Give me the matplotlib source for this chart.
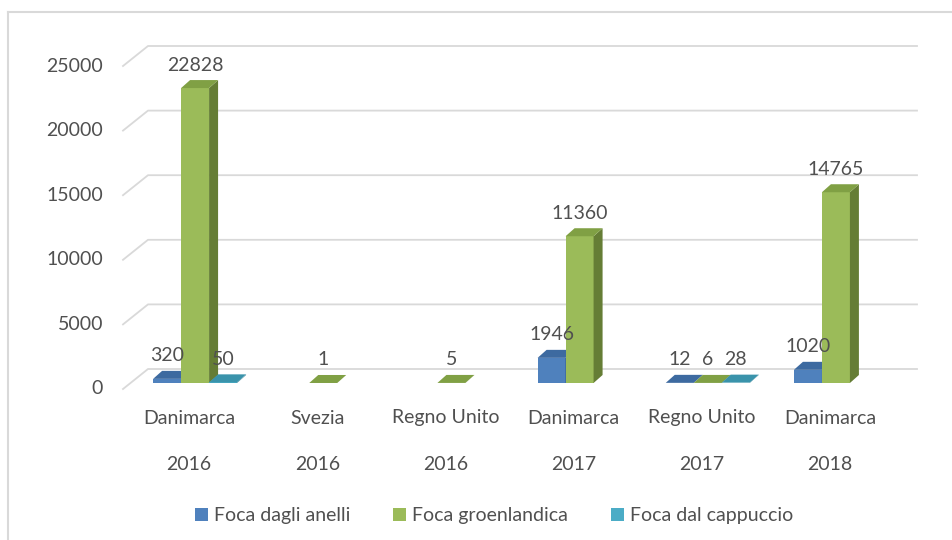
import numpy as np
import matplotlib
matplotlib.use("Agg")
import matplotlib.pyplot as plt
from matplotlib.patches import Polygon, Patch
from matplotlib.transforms import IdentityTransform
from matplotlib.lines import Line2D

countries = ["Danimarca", "Svezia", "Regno Unito", "Danimarca", "Regno Unito", "Danimarca"]
years = ["2016", "2016", "2016", "2017", "2017", "2018"]
series_names = ["Foca dagli anelli", "Foca groenlandica", "Foca dal cappuccio"]
foca_anelli = [320, np.nan, np.nan, 1946, 12, 1020]
foca_groenlandica = [22828, 1, 5, 11360, 6, 14765]
foca_cappuccio = [50, np.nan, np.nan, np.nan, 28, np.nan]
y_ticks = [0, 5000, 10000, 15000, 20000, 25000]

series = [foca_anelli, foca_groenlandica, foca_cappuccio]
front_cols = ["#4f81bd", "#9bbb59", "#4bacc6"]
top_cols = ["#3d6aa0", "#80a044", "#3a93ab"]
side_cols = ["#2f5482", "#657d35", "#2e7a8e"]

plt.rcParams['font.family'] = ['Lato', 'DejaVu Sans']
TXT = "#505050"
FS = 14

W, H = 952, 540
fig = plt.figure(figsize=(W / 100, H / 100), dpi=100)
# bar front plane
x0, x1 = 131, 900
yb, yt = 383, 60
ax = fig.add_axes([x0 / W, 1 - yb / H, (x1 - x0) / W, (yb - yt) / H])
ax.set_xlim(-0.5, 5.5)
ax.set_ylim(0, 25000)
ax.axis("off")

# chart frame
fig.add_artist(Line2D([8 / W, 8 / W], [0, 1 - 12 / H], color="#d9d9d9", lw=1.5))
fig.add_artist(Line2D([8 / W, 1], [1 - 12 / H, 1 - 12 / H], color="#d9d9d9", lw=1.5))

# depth offsets in pixels (display y goes up)
FDX, FDY = -8, -6     # front edge relative to bar plane
BDX, BDY = 17, 14     # back wall relative to bar plane
SDX, SDY = 9, 8       # bar depth

T = ax.transData
IT = IdentityTransform()

for v in y_ticks:
    px, py = T.transform((-0.5, v))
    pxr, _ = T.transform((5.5, v))
    xs = [px + FDX, px + BDX, pxr + BDX]
    ys = [py + FDY, py + BDY, py + BDY]
    ax.add_line(Line2D(xs, ys, color="#d9d9d9", lw=1.3, transform=IT, clip_on=False, zorder=1))
    fig.text((px + FDX - 20) / W, (py + FDY) / H, f"{v}", ha="right", va="center",
             fontsize=FS, color=TXT)

bw = 0.2184
x = np.arange(len(countries))
for s, vals in enumerate(series):
    for i, v in enumerate(vals):
        if np.isnan(v):
            continue
        xc = x[i] + (s - 1) * bw
        ax.bar(xc, v, width=bw, color=front_cols[s], zorder=3 + i * 3, linewidth=0)
        (lx, by) = T.transform((xc - bw / 2, 0))
        (rx, ty) = T.transform((xc + bw / 2, v))
        side = Polygon([(rx, by), (rx + SDX, by + SDY), (rx + SDX, ty + SDY), (rx, ty)],
                       closed=True, facecolor=side_cols[s], edgecolor="none",
                       transform=IT, zorder=3 + i * 3, clip_on=False)
        top = Polygon([(lx, ty), (rx, ty), (rx + SDX, ty + SDY), (lx + SDX, ty + SDY)],
                      closed=True, facecolor=top_cols[s], edgecolor="none",
                      transform=IT, zorder=3 + i * 3, clip_on=False)
        ax.add_patch(side)
        ax.add_patch(top)
        cx, _ = T.transform((xc, v))
        fig.text(cx / W, (ty + 23) / H, f"{int(v)}", ha="center", va="center",
                 fontsize=FS, color=TXT)

for i in range(len(countries)):
    cx, _ = T.transform((x[i], 0))
    fig.text((cx - 6) / W, 1 - 418 / H, countries[i], ha="center", va="center",
             fontsize=FS, color=TXT)
    fig.text((cx - 6) / W, 1 - 465 / H, years[i], ha="center", va="center",
             fontsize=FS, color=TXT)

handles = [Patch(facecolor=c, edgecolor="none") for c in front_cols]
fig.legend(handles, series_names, loc="center", bbox_to_anchor=(494 / W, 1 - 516 / H),
           ncol=3, frameon=False, fontsize=FS, labelcolor=TXT,
           handlelength=0.68, handleheight=0.68, handletextpad=0.3, columnspacing=2.2)

fig.savefig("out.png", dpi=100)
